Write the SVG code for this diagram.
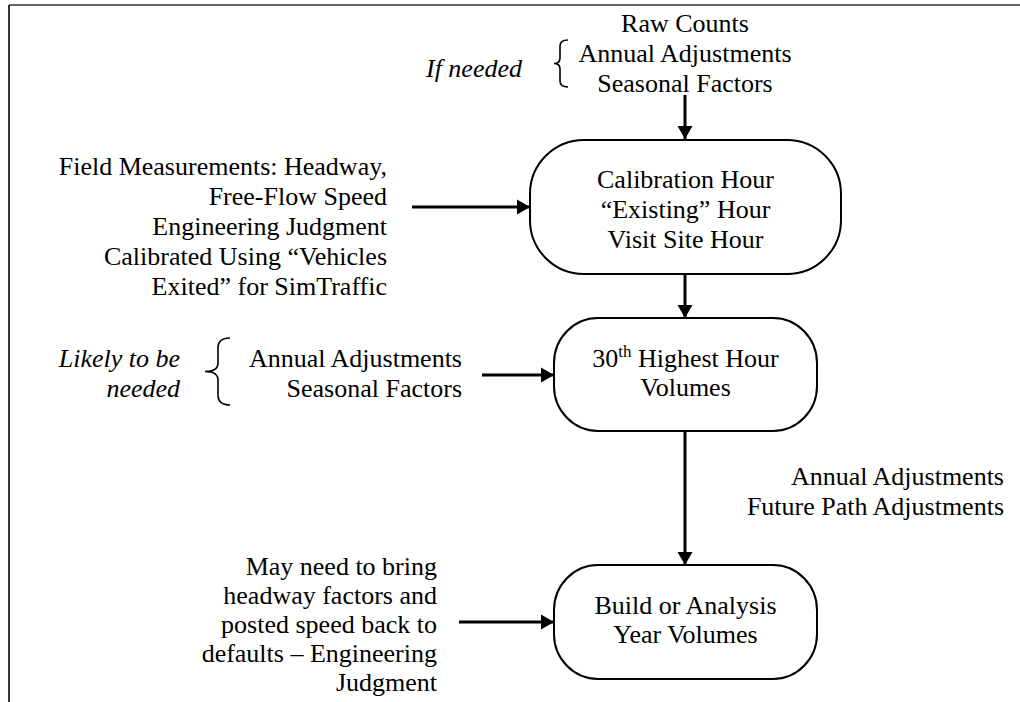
<svg xmlns="http://www.w3.org/2000/svg" width="1020" height="702" viewBox="0 0 1020 702">
<style>
.i{font-style:italic}
.m{text-anchor:middle}
.e{text-anchor:end}
.node{fill:#fff;stroke:#000;stroke-width:2}
.conn{stroke:#000;stroke-width:3;fill:none}
.brace{stroke:#000;stroke-width:1.6;fill:none}
</style>
<defs>
<marker id="ah" markerUnits="userSpaceOnUse" markerWidth="16" markerHeight="16" viewBox="0 0 16 16" refX="13" refY="8" orient="auto">
<path d="M0,0.5 L13,8 L0,15.5 Z" fill="#000"/>
</marker>
</defs>
<rect width="1020" height="702" fill="#fff"/>
<g id="frame">
<line x1="9" y1="5" x2="1020" y2="5" stroke="#333" stroke-width="1.4"/>
<line x1="9" y1="5" x2="9" y2="702" stroke="#000" stroke-width="1.6"/>
</g>
<g id="connectors">
<line class="conn" x1="685" y1="95" x2="685" y2="139" marker-end="url(#ah)"/>
<line class="conn" x1="685" y1="274" x2="685" y2="318" marker-end="url(#ah)"/>
<line class="conn" x1="685" y1="431" x2="685" y2="565" marker-end="url(#ah)"/>
<line class="conn" x1="412" y1="207" x2="530" y2="207" marker-end="url(#ah)"/>
<line class="conn" x1="482" y1="375" x2="554" y2="375" marker-end="url(#ah)"/>
<line class="conn" x1="459" y1="622" x2="554" y2="622" marker-end="url(#ah)"/>
</g>
<g font-family="Liberation Serif, serif" font-size="26" fill="#000">
<g id="top-inputs">
<text class="m" x="685" y="32">Raw Counts</text>
<text class="m" x="685" y="62">Annual Adjustments</text>
<text class="m" x="685" y="92">Seasonal Factors</text>
<text class="i e" x="522" y="77">If needed</text>
<path class="brace" d="M568,40 Q560,40 560,46 L560,58 Q560,63.5 554,63.5 Q560,63.5 560,69 L560,81 Q560,87 568,87"/>
</g>
<g id="field-inputs">
<text class="e" x="387" y="175">Field Measurements: Headway,</text>
<text class="e" x="387" y="205">Free-Flow Speed</text>
<text class="e" x="387" y="235">Engineering Judgment</text>
<text class="e" x="387" y="265">Calibrated Using “Vehicles</text>
<text class="e" x="387" y="295">Exited” for SimTraffic</text>
</g>
<g id="likely-inputs">
<text class="i e" x="180" y="367">Likely to be</text>
<text class="i e" x="180" y="397">needed</text>
<path class="brace" d="M230,338 Q218,338 218,348 L218,363 Q218,371.5 205,371.5 Q218,371.5 218,380 L218,395 Q218,405 230,405"/>
<text class="e" x="462" y="367">Annual Adjustments</text>
<text class="e" x="462" y="397">Seasonal Factors</text>
</g>
<g id="future-inputs">
<text class="e" x="1004" y="485">Annual Adjustments</text>
<text class="e" x="1004" y="515">Future Path Adjustments</text>
</g>
<g id="default-inputs">
<text class="e" x="437" y="575">May need to bring</text>
<text class="e" x="437" y="604">headway factors and</text>
<text class="e" x="437" y="633">posted speed back to</text>
<text class="e" x="437" y="662">defaults – Engineering</text>
<text class="e" x="437" y="691">Judgment</text>
</g>
<g id="node-calibration">
<rect class="node" x="530" y="140" width="311" height="134" rx="54" ry="54"/>
<text class="m" x="685.5" y="188">Calibration Hour</text>
<text class="m" x="685.5" y="218">“Existing” Hour</text>
<text class="m" x="685.5" y="248">Visit Site Hour</text>
</g>
<g id="node-30th">
<rect class="node" x="554" y="318" width="263" height="113" rx="44" ry="45"/>
<text class="m" x="685.5" y="367">30<tspan font-size="17" dy="-10">th</tspan><tspan dy="10"> Highest Hour</tspan></text>
<text class="m" x="685.5" y="396">Volumes</text>
</g>
<g id="node-build">
<rect class="node" x="554" y="565" width="263" height="114" rx="44" ry="45"/>
<text class="m" x="685.5" y="614">Build or Analysis</text>
<text class="m" x="685.5" y="643">Year Volumes</text>
</g>
</g>
</svg>
